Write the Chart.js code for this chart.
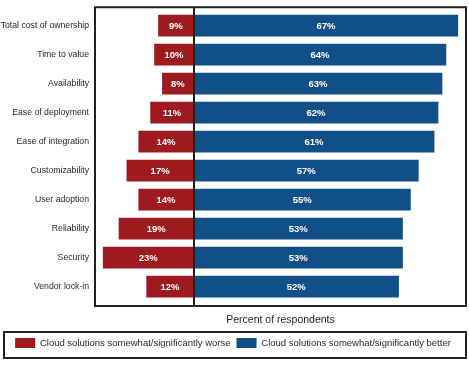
<!DOCTYPE html>
<html>
<head>
<meta charset="utf-8">
<script src="https://cdn.jsdelivr.net/npm/chart.js@4.4.1/dist/chart.umd.min.js"></script>
<style>
  html, body { margin: 0; padding: 0; background: #fff; }
  #wrap { width: 469px; height: 365px; }
</style>
</head>
<body>
<div id="wrap"><canvas id="chart" width="469" height="365"></canvas></div>
<script>
// Data
const categories = [
  "Total cost of ownership", "Time to value", "Availability", "Ease of deployment",
  "Ease of integration", "Customizability", "User adoption", "Reliability",
  "Security", "Vendor lock-in"
]
const worseValues = [9, 10, 8, 11, 14, 17, 14, 19, 23, 12]
const betterValues = [67, 64, 63, 62, 61, 57, 55, 53, 53, 52]
const seriesNames = [
  "Cloud solutions somewhat/significantly worse",
  "Cloud solutions somewhat/significantly better"
]
const axisTitle = "Percent of respondents"

const RED = "#9d1a1f"
const BLUE = "#114f88"
const INK = "#231f20"
const FONT = "'Liberation Sans', Arial, sans-serif"

// White value labels, box around the plot and the zero line
const decorations = {
  id: "decorations",
  afterDatasetsDraw(chart) {
    const { ctx, chartArea } = chart
    ctx.save()
    ctx.fillStyle = "#fff"
    ctx.font = "bold 9.5px " + FONT
    ctx.textAlign = "center"
    ctx.textBaseline = "middle"
    chart.data.datasets.forEach((ds, i) => {
      chart.getDatasetMeta(i).data.forEach((bar, j) => {
        const cx = (bar.x + bar.base) / 2
        ctx.fillText(Math.abs(ds.data[j]) + "%", cx, bar.y + 1)
      })
    })

    const top = chartArea.top - 4
    const bottom = chartArea.bottom + 5
    ctx.strokeStyle = INK
    ctx.lineWidth = 2
    ctx.strokeRect(chartArea.left, top, chartArea.right - chartArea.left, bottom - top)

    const x0 = Math.round(chart.scales.x.getPixelForValue(0))
    ctx.beginPath()
    ctx.moveTo(x0, top)
    ctx.lineTo(x0, bottom)
    ctx.stroke()

    const lg = chart.legend
    ctx.strokeRect(4, lg.top, 462, lg.height)
    ctx.restore()
  }
}

new Chart(document.getElementById("chart"), {
  type: "bar",
  data: {
    labels: categories,
    datasets: [
      {
        label: seriesNames[0],
        data: worseValues.map((v) => -v),
        backgroundColor: RED,
        borderWidth: 0,
        barPercentage: 0.75,
        categoryPercentage: 1
      },
      {
        label: seriesNames[1],
        data: betterValues,
        backgroundColor: BLUE,
        borderWidth: 0,
        barPercentage: 0.75,
        categoryPercentage: 1
      }
    ]
  },
  options: {
    indexAxis: "y",
    responsive: false,
    animation: false,
    layout: { padding: { left: 0, right: 3, top: 10, bottom: 7 } },
    scales: {
      x: {
        stacked: true,
        min: -25,
        max: 69,
        grid: { display: false, drawTicks: false },
        border: { display: false },
        ticks: { display: false },
        title: {
          display: true,
          text: axisTitle,
          color: INK,
          font: { family: FONT, size: 10.5 },
          padding: { top: 10, bottom: 6 }
        },
        afterFit(scale) { scale.height = 31 }
      },
      y: {
        stacked: true,
        grid: { display: false, drawTicks: false },
        border: { display: false },
        ticks: {
          color: INK,
          font: { family: FONT, size: 8.7 },
          padding: 6
        },
        afterFit(scale) { scale.width = 95 }
      }
    },
    plugins: {
      legend: {
        position: "bottom",
        labels: {
          boxWidth: 20,
          boxHeight: 10,
          padding: 6,
          color: INK,
          font: { family: FONT, size: 9.5 }
        }
      },
      tooltip: { enabled: false }
    }
  },
  plugins: [decorations]
})
</script>
</body>
</html>
